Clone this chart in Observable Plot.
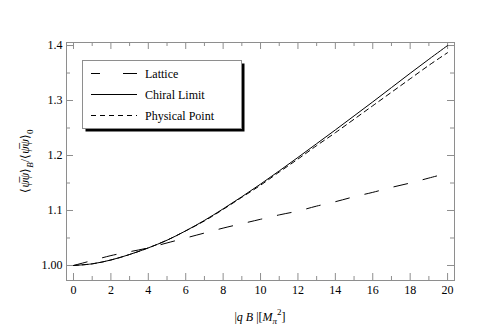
<!DOCTYPE html>
<html>
<head>
<meta charset="utf-8">
<script src="https://cdn.jsdelivr.net/npm/d3@7"></script>
<script src="https://cdn.jsdelivr.net/npm/@observablehq/plot@0.6"></script>
<style>
  html, body { margin: 0; padding: 0; background: #fff; }
  #chart svg { display: block; }
</style>
</head>
<body>
<div id="chart"></div>
<script>
// ---- data ----
const qB = [0,1,2,3,4,5,6,7,8,9,10,11,12,13,14,15,16,17,18,19,20];
const chiral = [1.000,1.003,1.010,1.020,1.032,1.046,1.063,1.082,1.103,1.125,1.148,1.172,1.1965,1.2215,1.2465,1.272,1.2975,1.3235,1.3495,1.3750,1.400];
const physical = [1.000,1.003,1.010,1.020,1.032,1.046,1.063,1.081,1.102,1.124,1.146,1.170,1.1935,1.218,1.2415,1.266,1.2905,1.315,1.3395,1.364,1.387];
const latticeX = [0,1,2,3,4,5,6,7,8,9,10,11,12,13,14,15,16,17,18,19,20];
const lattice = [1.000,1.009,1.018,1.025,1.032,1.041,1.050,1.059,1.068,1.076,1.084,1.092,1.099,1.108,1.116,1.125,1.133,1.142,1.150,1.159,1.168];

const xMajor = [0,2,4,6,8,10,12,14,16,18,20];
const xMinor = [1,3,5,7,9,11,13,15,17,19];
const yMajor = [1.0,1.1,1.2,1.3,1.4];
const yMinor = [1.05,1.15,1.25,1.35];
const yLabels = ["1.00","1.1","1.2","1.3","1.4"];
const seriesNames = ["Lattice","Chiral Limit","Physical Point"];

const rows = (xs, ys, s) => xs.map((x, i) => ({x, y: ys[i], s}));
const dLattice = rows(latticeX, lattice, seriesNames[0]);
const dChiral = rows(qB, chiral, seriesNames[1]);
const dPhysical = rows(qB, physical, seriesNames[2]);

const W = 491, H = 333;
const mL = 66, mR = 37, mT = 42, mB = 53;
const pw = W - mL - mR, ph = H - mT - mB;
const frameColor = "#8e8e8e";
const major = 7, minor = 4;
const font = "'Liberation Serif', 'Times New Roman', serif";

const chart = Plot.plot({
  width: W, height: H,
  marginLeft: mL, marginRight: mR, marginTop: mT, marginBottom: mB,
  style: {fontFamily: font, fontSize: "12px", color: "#000", background: "#fff"},
  x: {domain: [-0.374, 20.37]},
  y: {domain: [0.9727, 1.4055]},
  marks: [
    Plot.frame({stroke: frameColor, strokeWidth: 1}),
    // inward frame ticks
    Plot.ruleX(xMajor, {x: d => d, insetTop: ph - major, stroke: frameColor}),
    Plot.ruleX(xMajor, {x: d => d, insetBottom: ph - major, stroke: frameColor}),
    Plot.ruleX(xMinor, {x: d => d, insetTop: ph - minor, stroke: frameColor}),
    Plot.ruleX(xMinor, {x: d => d, insetBottom: ph - minor, stroke: frameColor}),
    Plot.ruleY(yMajor, {y: d => d, insetRight: pw - major, stroke: frameColor}),
    Plot.ruleY(yMajor, {y: d => d, insetLeft: pw - major, stroke: frameColor}),
    Plot.ruleY(yMinor, {y: d => d, insetRight: pw - minor, stroke: frameColor}),
    Plot.ruleY(yMinor, {y: d => d, insetLeft: pw - minor, stroke: frameColor}),
    Plot.axisX({ticks: xMajor, tickSize: 0, tickPadding: 5, label: null, fontSize: 12}),
    Plot.axisY({ticks: yMajor, tickSize: 0, tickPadding: 4, label: null, fontSize: 12,
      tickFormat: d => yLabels[yMajor.findIndex(v => Math.abs(v - d) < 1e-9)]}),
    // curves
    Plot.line(dLattice, {x: "x", y: "y", stroke: "#000", strokeWidth: 1, curve: "catmull-rom", strokeDasharray: "14,16"}),
    Plot.line(dChiral, {x: "x", y: "y", stroke: "#000", strokeWidth: 1, curve: "catmull-rom"}),
    Plot.line(dPhysical, {x: "x", y: "y", stroke: "#000", strokeWidth: 1, curve: "catmull-rom", strokeDasharray: "5,4"})
  ]
});

const svg = d3.select(chart);

// legend with drop shadow
const lg = svg.append("g").attr("font-family", font).attr("font-size", 12).attr("text-anchor", "start");
const lx = 82.5, ly = 60.5, lw = 159, lh = 68;
lg.append("rect").attr("x", lx + 3).attr("y", ly + 3).attr("width", lw).attr("height", lh).attr("fill", "#000");
lg.append("rect").attr("x", lx).attr("y", ly).attr("width", lw).attr("height", lh).attr("fill", "#fff").attr("stroke", frameColor);
const dashes = ["9,23,14,100", null, "5,4"];
const rowsY = [73.5, 94.5, 115.5];
seriesNames.forEach((name, i) => {
  const l = lg.append("line").attr("x1", 91).attr("x2", 137).attr("y1", rowsY[i]).attr("y2", rowsY[i])
    .attr("stroke", "#000").attr("stroke-width", 1);
  if (dashes[i]) l.attr("stroke-dasharray", dashes[i]);
  lg.append("text").attr("x", 145).attr("y", rowsY[i]).attr("dy", "0.35em")
    .attr("text-anchor", "start").attr("fill", "#000").text(name);
});

// x-axis title: |q B |[M_π^2]
const xt = svg.append("text").attr("x", mL + pw / 2).attr("y", 321).attr("text-anchor", "middle")
  .attr("font-family", font).attr("font-size", 12).attr("fill", "#000");
xt.append("tspan").text("|");
xt.append("tspan").attr("font-style", "italic").text("q B");
xt.append("tspan").text(" |[");
xt.append("tspan").attr("font-style", "italic").text("M");
xt.append("tspan").attr("font-style", "italic").attr("font-size", 9).attr("dy", 3).text("π");
xt.append("tspan").attr("font-size", 9).attr("dy", -9).text("2");
xt.append("tspan").attr("dy", 6).text("]");

// y-axis title: ⟨ψ̄ψ⟩_B/⟨ψ̄ψ⟩_0
const yt = svg.append("text").attr("transform", `translate(29,${mT + ph / 2}) rotate(-90)`)
  .attr("text-anchor", "middle").attr("font-family", font).attr("font-size", 12).attr("fill", "#000");
yt.append("tspan").text("⟨");
yt.append("tspan").attr("font-style", "italic").text("ψ\u0305ψ");
yt.append("tspan").text("⟩");
yt.append("tspan").attr("font-style", "italic").attr("font-size", 9).attr("dy", 4).text("B");
yt.append("tspan").attr("dy", -4).text("/⟨");
yt.append("tspan").attr("font-style", "italic").text("ψ\u0305ψ");
yt.append("tspan").text("⟩");
yt.append("tspan").attr("font-size", 9).attr("dy", 4).text("0");

document.getElementById("chart").appendChild(chart);
</script>
</body>
</html>
